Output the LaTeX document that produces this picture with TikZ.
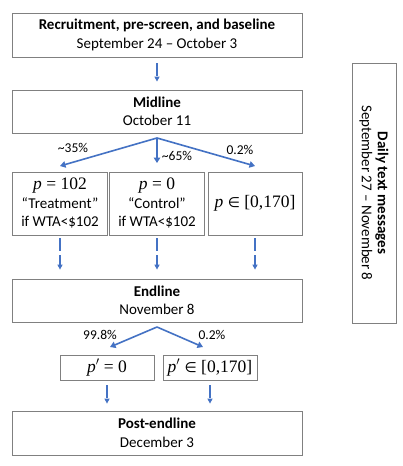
\documentclass[tikz,border=0pt]{standalone}
\usepackage{fontspec}
\setmainfont{Carlito}
\newfontfamily\mserif{Liberation Serif}
\newfontfamily\msym{DejaVu Sans}
\usetikzlibrary{arrows.meta}
\definecolor{boxgray}{RGB}{128,128,128}
\definecolor{arrblue}{RGB}{68,114,196}
\newcommand{\mth}[1]{{\fontsize{17.5}{18.5}\selectfont\mserif #1}}
\newcommand{\pv}{\textit{p}}
\newcommand{\elem}{{\msym\fontsize{14}{18.5}\selectfont ∈}}
\begin{document}
\begin{tikzpicture}[x=1pt,y=-1pt,
  box/.style={draw=boxgray, line width=0.8pt, inner sep=0pt, align=center,
    font=\fontsize{15}{18.5}\selectfont},
  dasharrow/.style={draw=arrblue, line width=1.5pt, dash pattern=on 13pt off 4pt,
    -{Triangle[width=5pt,length=5pt]}},
  brancharrow/.style={draw=arrblue, line width=1.6pt,
    -{Triangle[width=6.5pt,length=5.5pt]}},
  pct/.style={font=\fontsize{13.5}{15}\selectfont, inner sep=0pt}
]
\useasboundingbox (0,0) rectangle (403,466);
\fill[white] (0,0) rectangle (403,466);

\node[box, minimum width=290pt, minimum height=44pt] (rec) at (157,35)
  {\textbf{Recruitment, pre-screen, and baseline}\\September 24 -- October 3};
\node[box, minimum width=290pt, minimum height=43pt] (mid) at (157,111.5)
  {\textbf{Midline}\\October 11};
\node[box, minimum width=95pt, minimum height=63pt] (ta) at (60,203.5)
  {\mth{\pv\ = 102}\\``Treatment''\\if WTA<\$102};
\node[box, minimum width=95pt, minimum height=63pt] (tb) at (157,203.5)
  {\mth{\pv\ = 0}\\``Control''\\if WTA<\$102};
\node[box, minimum width=94pt, minimum height=63pt] (tc) at (255,203.5)
  {\mth{\pv\ \elem\ [0,170]}};
\node[box, minimum width=290pt, minimum height=43pt] (end) at (157,300.5)
  {\textbf{Endline}\\November 8};
\node[box, minimum width=94pt, minimum height=25pt] (pa) at (107,367.5)
  {\mth{\pv$'$\ = 0}};
\node[box, minimum width=94pt, minimum height=25pt] (pb) at (210,367.5)
  {\mth{\pv$'$\ \elem\ [0,170]}};
\node[box, minimum width=290pt, minimum height=44pt] (post) at (157,433)
  {\textbf{Post-endline}\\December 3};
\node[box, minimum width=44pt, minimum height=260pt] (side) at (374,193) {};
\node[align=center, rotate=-90, font=\fontsize{15}{16}\selectfont] (sidetxt) at (side.center)
  {\textbf{Daily text messages}\\September 27 -- November 8};

% dashed arrows
\draw[dasharrow, shorten <=6pt, shorten >=8pt] (rec.south) -- (mid.north);
\draw[dasharrow, shorten <=3pt, shorten >=9pt] (ta.south) -- (ta.south |- end.north);
\draw[dasharrow, shorten <=3pt, shorten >=9pt] (tb.south) -- (tb.south |- end.north);
\draw[dasharrow, shorten <=3pt, shorten >=9pt] (tc.south) -- (tc.south |- end.north);
\draw[dasharrow, shorten <=5pt, shorten >=7pt] (pa.south) -- (pa.south |- post.north);
\draw[dasharrow, shorten <=5pt, shorten >=7pt] (pb.south) -- (pb.south |- post.north);

% branch arrows after midline
\coordinate (m0) at (157,138);
\coordinate (ma) at (60,166);
\coordinate (mb) at (157,163);
\coordinate (mc) at (255,166);
\draw[brancharrow] (m0) -- (ma);
\draw[brancharrow] (m0) -- (mb);
\draw[brancharrow] (m0) -- (mc);
\node[pct] (l35) at (73,148) {\textasciitilde35\%};
\node[pct] (l65) at (177,156) {\textasciitilde65\%};
\node[pct] (l02) at (240,150) {0.2\%};

% branch arrows after endline
\coordinate (e0) at (157,327);
\coordinate (ea) at (110,347);
\coordinate (eb) at (203,347);
\draw[brancharrow] (e0) -- (ea);
\draw[brancharrow] (e0) -- (eb);
\node[pct] (l998) at (100,335) {99.8\%};
\node[pct] (l02b) at (212,335) {0.2\%};
\end{tikzpicture}
\end{document}
